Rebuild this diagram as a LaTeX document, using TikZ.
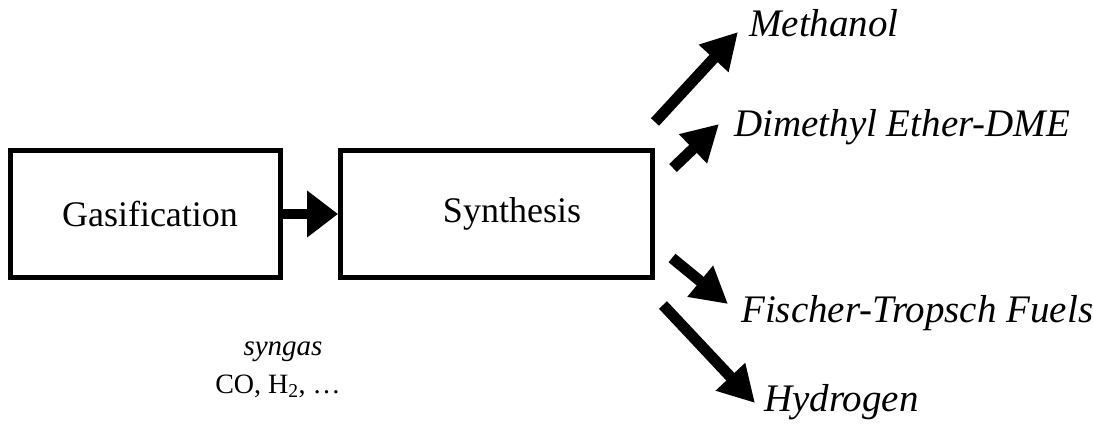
\documentclass[tikz,border=0pt]{standalone}
\usepackage{fontspec}
\setmainfont{Liberation Serif}
\usetikzlibrary{arrows.meta}
\begin{document}
\begin{tikzpicture}[x=1pt,y=-1pt,
  procbox/.style={draw=black,line width=5pt,minimum width=270pt,minimum height=127pt,inner sep=0pt},
  boxtext/.style={inner sep=0pt,font=\fontsize{36}{40}\selectfont},
  prodlabel/.style={anchor=base west,inner sep=0pt,font=\fontsize{39}{44}\selectfont\itshape},
  fat/.style={line width=11pt,-{Triangle[length=36pt,width=38pt]}},
  conn/.style={line width=10pt,-{Triangle[length=31pt,width=45pt]}}]
\useasboundingbox (0,0) rectangle (1093,428);
\node[procbox] (gas) at (145.5,214) {};
\node[procbox,minimum width=312pt] (syn) at (496.5,214) {};
\node[boxtext] (gast) at (150,214) {Gasification};
\node[boxtext] (synt) at (512,214) {Synthesis};
\draw[conn] (gas.east) -- (syn.west);
\node[anchor=base,inner sep=0pt,font=\fontsize{29}{33}\selectfont\itshape] (sg) at (283,355) {syngas};
\node[anchor=base,inner sep=0pt,font=\fontsize{28}{32}\selectfont] (co) at (278,393) {CO, H\textsubscript{2}, …};
\node[prodlabel] (meth) at (749,37) {Methanol};
\node[prodlabel] (dme) at (734,136) {Dimethyl Ether-DME};
\node[prodlabel] (ft) at (741,322) {Fischer-Tropsch Fuels};
\node[prodlabel] (hyd) at (764,411) {Hydrogen};
\coordinate (t1) at (655,122); \coordinate (h1) at (738,32);
\coordinate (t2) at (673,168); \coordinate (h2) at (719,124);
\coordinate (t3) at (672,258); \coordinate (h3) at (728,304);
\coordinate (t4) at (663,305); \coordinate (h4) at (755,403);
\draw[fat] (t1) -- (h1);
\draw[fat] (t2) -- (h2);
\draw[fat] (t3) -- (h3);
\draw[fat] (t4) -- (h4);
\end{tikzpicture}
\end{document}
